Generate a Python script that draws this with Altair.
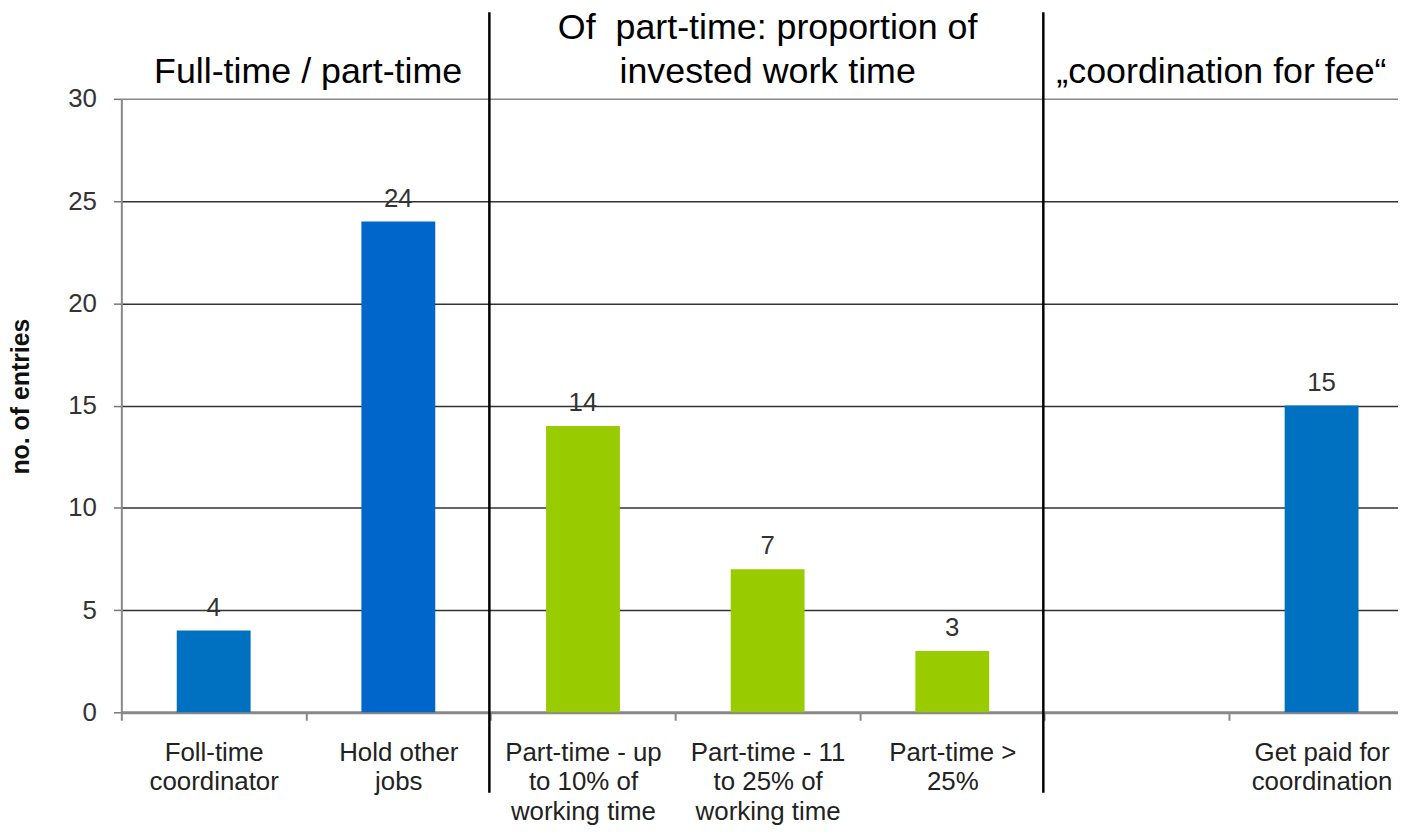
import altair as alt
import pandas as pd

categories = [
    "Foll-time\ncoordinator",
    "Hold other\njobs",
    "Part-time - up\nto 10% of\nworking time",
    "Part-time - 11\nto 25% of\nworking time",
    "Part-time >\n25%",
    " ",
    "Get paid for\ncoordination",
]
values = [4, 24, 14, 7, 3, None, 15]
bar_colors = ["#0070C0", "#0066CC", "#99CC00", "#99CC00", "#99CC00", "#FFFFFF", "#0070C0"]

header_1 = "Full-time / part-time"
header_2 = ["Of\u00a0 part-time: proportion of", "invested work time"]
header_3 = "\u201ecoordination for fee\u201c"
y_ticks = [0, 5, 10, 15, 20, 25, 30]

df = pd.DataFrame({"cat": categories, "value": values, "color": bar_colors})
df_vals = df.dropna(subset=["value"]).copy()
df_vals["label"] = df_vals["value"].astype(int).astype(str)

FONT = "Liberation Sans"

xscale = alt.Scale(domain=categories, paddingInner=0.6, paddingOuter=0.3, range=[0, 1300])
x_enc = alt.X(
    "cat:N",
    sort=categories,
    scale=xscale,
    axis=alt.Axis(
        title=None,
        labelAngle=0,
        labelExpr="split(datum.label, '\\n')",
        labelFontSize=26,
        labelLineHeight=30,
        labelFont=FONT,
        labelColor="#222222",
        labelPadding=19,
        labelLimit=400,
        tickOffset=-93,
        labelOffset=93,
        tickSize=8,
        tickColor="#888888",
        tickWidth=2,
        domainColor="#888888",
        domainWidth=3,
        grid=False,
    ),
)
y_enc = alt.Y(
    "value:Q",
    scale=alt.Scale(domain=[0, 30]),
    axis=alt.Axis(
        values=y_ticks,
        title="no. of entries",
        titleFont=FONT,
        titleFontSize=25,
        titleFontWeight="bold",
        titleColor="#111111",
        titlePadding=34,
        titleY=299,
        labelFont=FONT,
        labelFontSize=26,
        labelColor="#333333",
        labelPadding=17,
        tickSize=8,
        tickColor="#777777",
        tickWidth=1.5,
        domainColor="#888888",
        domainWidth=2,
        grid=True,
        gridColor=alt.expr("datum.value == 30 ? '#888888' : '#333333'"),
        gridWidth=1.5,
    ),
)

bars = alt.Chart(df_vals).mark_bar().encode(
    x=x_enc,
    y=y_enc,
    color=alt.Color("color:N", scale=None),
)

labels = alt.Chart(df_vals).mark_text(
    baseline="alphabetic", dy=-15, fontSize=26, font=FONT, color="#333333"
).encode(
    x=alt.X("cat:N", sort=categories, scale=xscale),
    y="value:Q",
    text="label:N",
)

sep_df = pd.DataFrame({"cat": [categories[2], categories[5]]})
separators = alt.Chart(sep_df).mark_rule(color="#000000", strokeWidth=2.5, xOffset=-57).encode(
    x=alt.X("cat:N", sort=categories, scale=xscale, bandPosition=0),
    y=alt.value(-87),
    y2=alt.value(698),
)

def header(anchor, text, dx, y):
    d = pd.DataFrame({"cat": [anchor], "t": [text]})
    return alt.Chart(d).mark_text(
        fontSize=36, font=FONT, color="#000000", baseline="alphabetic", dx=dx, align="center"
    ).encode(
        x=alt.X("cat:N", sort=categories, scale=xscale),
        y=alt.value(y),
        text="t:N",
    )

h1 = header(categories[0], header_1, 95, -16)
h2a = header(categories[3], header_2[0], 0, -60)
h2b = header(categories[3], header_2[1], 0, -16)
h3 = header(categories[5], header_3, 85, -16)

chart = alt.layer(bars, labels, separators, h1, h2a, h2b, h3).properties(
    width=1284,
    height=617,
    autosize=alt.AutoSizeParams(type="none"),
    padding={"left": 114, "top": 89, "right": 0, "bottom": 114},
    background="#FFFFFF",
).configure_view(strokeWidth=0)

chart.save("out.html", embed_options={"renderer": "svg", "actions": False})
